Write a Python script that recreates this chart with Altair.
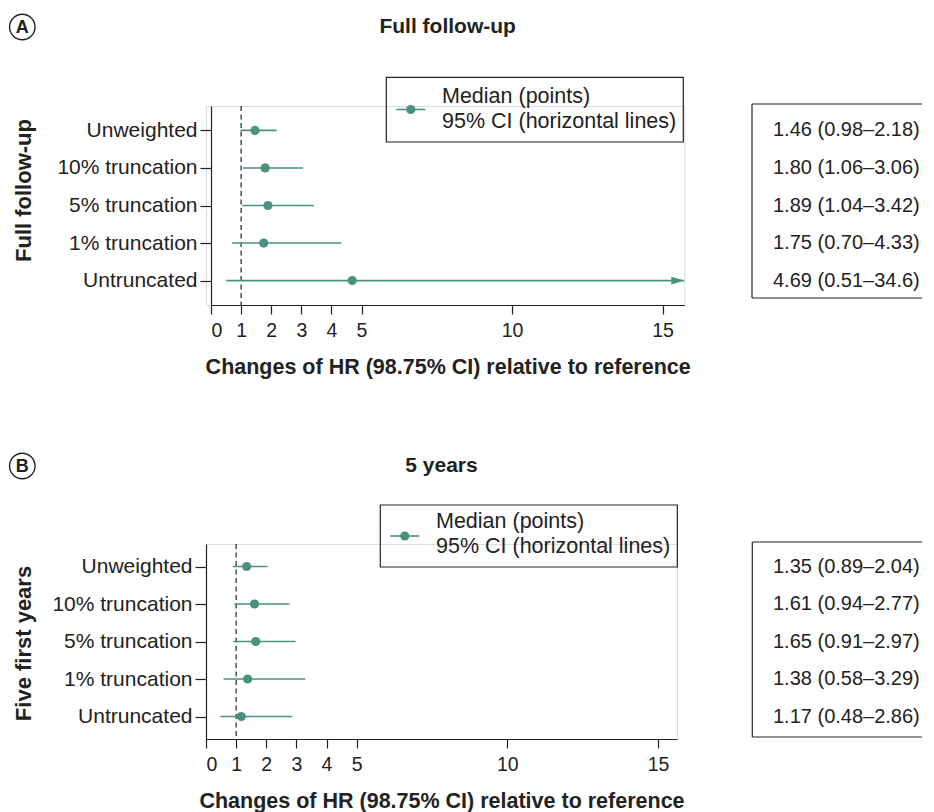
import altair as alt
import pandas as pd

# ---------------- data ----------------
categories = ["Unweighted", "10% truncation", "5% truncation", "1% truncation", "Untruncated"]

a_median = [1.46, 1.80, 1.89, 1.75, 4.69]
a_lower = [0.98, 1.06, 1.04, 0.70, 0.51]
a_upper = [2.18, 3.06, 3.42, 4.33, 34.6]

b_median = [1.35, 1.61, 1.65, 1.38, 1.17]
b_lower = [0.89, 0.94, 0.91, 0.58, 0.48]
b_upper = [2.04, 2.77, 2.97, 3.29, 2.86]

x_ticks = [0, 1, 2, 3, 4, 5, 10, 15]
reference_value = [1]
legend_lines = ["Median (points)", "95% CI (horizontal lines)"]
x_title = "Changes of HR (98.75% CI) relative to reference"

FONT = "Liberation Sans, Arial, Helvetica, sans-serif"
TEAL = "#4a927f"
INK = "#222222"
ARROW = "M-1,-0.6L1,0L-1,0.6Z"


def fmt(v):
    return f"{v:.1f}" if v >= 10 else f"{v:.2f}"


def panel(letter, title, ytitle, median, lower, upper, xmax, x0, pw, height, ypad, L):
    """x0: left inset of the plot inside its group, pw: plot width."""
    df = pd.DataFrame({
        "category": categories,
        "median": median,
        "lower": lower,
        "upper": upper,
    })
    df["upper_clip"] = [min(u, xmax) for u in upper]
    df["clipped"] = [u > xmax for u in upper]
    df["label"] = [f"{fmt(m)} ({fmt(l)}\u2013{fmt(u)})" for m, l, u in zip(median, lower, upper)]

    xscale = alt.Scale(domain=[0, xmax], nice=False, zero=False, range=[x0, x0 + pw])
    xaxis = alt.Axis(values=x_ticks, title=x_title, grid=False, labelFontSize=19.5,
                     labelColor=INK, tickSize=9, labelPadding=7, tickColor=INK,
                     domainColor=INK, domainWidth=1.2, tickWidth=1.2,
                     titleFontSize=21.5, titleFontWeight="bold", titleColor=INK,
                     titleX=x0 + pw / 2, titleY=62, titleBaseline="middle",
                     titleAlign="center", labelFont=FONT, titleFont=FONT)
    yscale = alt.Scale(type="point", domain=categories, padding=ypad)
    yaxis = alt.Axis(title=ytitle, grid=False, labelFontSize=21, labelColor=INK,
                     tickSize=11, labelPadding=3, tickColor=INK, domainColor=INK,
                     domainWidth=1.2, tickWidth=1.2, titleFontSize=22,
                     titleFontWeight="bold", titleColor=INK, titleAngle=270,
                     titleAlign="center", titleBaseline="middle", offset=-x0,
                     titleX=L["ytx"], titleY=L["yty"], labelFont=FONT, titleFont=FONT)

    def X(field):
        return alt.X(field, type="quantitative", scale=xscale, axis=xaxis)

    Y = alt.Y("category:N", scale=yscale, axis=yaxis, sort=categories)

    base = alt.Chart(df)
    refdf = pd.DataFrame({"ref": reference_value})
    one = pd.DataFrame({"k": [0]})

    ref_rule = alt.Chart(refdf).mark_rule(color=INK, strokeWidth=1.2, strokeDash=[5, 3.5]).encode(
        x=X("ref"))
    ci = base.mark_rule(color=TEAL, strokeWidth=1.6).encode(x=X("lower"), x2="upper_clip", y=Y)
    arrow = base.transform_filter("datum.clipped").mark_point(
        shape=ARROW, filled=True, color=TEAL, size=169, opacity=1, xOffset=-6.5).encode(
        x=X("upper_clip"), y=Y)
    pts = base.mark_point(shape="circle", filled=True, color=TEAL, size=85, opacity=1).encode(
        x=X("median"), y=Y)
    vals = base.mark_text(align="left", baseline="middle", fontSize=20, font=FONT, color=INK).encode(
        x=alt.value(L["vx"]), y=Y, text="label:N")

    # boxed value table (open on the right, as cropped in the figure)
    bx = alt.Chart(one)
    box_top = bx.mark_rule(color=INK, strokeWidth=1.2).encode(
        x=alt.value(L["bl"]), x2=alt.value(L["br"]), y=alt.value(L["bt"]))
    box_bot = bx.mark_rule(color=INK, strokeWidth=1.2).encode(
        x=alt.value(L["bl"]), x2=alt.value(L["br"]), y=alt.value(L["bb"]))
    box_left = bx.mark_rule(color=INK, strokeWidth=1.2).encode(
        x=alt.value(L["bl"]), y=alt.value(L["bt"]), y2=alt.value(L["bb"]))

    # legend
    leg_box = bx.mark_rect(fillOpacity=0, stroke=INK, strokeWidth=1.2).encode(
        x=alt.value(L["lx1"]), x2=alt.value(L["lx2"]), y=alt.value(L["ly1"]), y2=alt.value(L["ly2"]))
    leg_line = bx.mark_rule(color=TEAL, strokeWidth=1.6).encode(
        x=alt.value(L["lx1"] + 10), x2=alt.value(L["lx1"] + 39), y=alt.value(L["lyc"]))
    leg_pt = bx.mark_point(shape="circle", filled=True, color=TEAL, size=85, opacity=1).encode(
        x=alt.value(L["lx1"] + 24.5), y=alt.value(L["lyc"]))
    leg_txt = bx.mark_text(align="left", baseline="middle", fontSize=21.5, lineHeight=24.5,
                           font=FONT, color=INK).encode(
        x=alt.value(L["lx1"] + 55.7), y=alt.value(L["lt"]), text=alt.value(legend_lines))

    # panel heading + circled letter
    head = bx.mark_text(align="center", baseline="middle", fontSize=21, fontWeight="bold",
                        font=FONT, color=INK).encode(
        x=alt.value(x0 + pw / 2), y=alt.value(L["hy"]), text=alt.value(title))
    circ = bx.mark_point(shape="circle", filled=False, color=INK, strokeWidth=1.4, size=650,
                         opacity=1).encode(x=alt.value(L["cx"]), y=alt.value(L["hy"]))
    circ_t = bx.mark_text(align="center", baseline="middle", fontSize=18, fontWeight="bold",
                          font=FONT, color=INK).encode(
        x=alt.value(L["cx"]), y=alt.value(L["hy"] + 1), text=alt.value(letter))

    return alt.layer(ref_rule, ci, arrow, pts, vals, box_top, box_bot, box_left,
                     leg_box, leg_line, leg_pt, leg_txt, head, circ, circ_t).properties(
        width=x0 + pw, height=height)


# positions relative to the shared group origin (panel A's plot sits 5 px further right)
LA = dict(ytx=-188, yty=84, vx=567, bl=546, br=716, bt=-2, bb=192,
          lx1=180.3, lx2=477.3, ly1=-28.7, ly2=36, lyc=3.5, lt=-9, hy=-79, cx=-183.7)
LB = dict(ytx=-183, yty=99, vx=567, bl=546.3, br=716, bt=-2, bb=193,
          lx1=174.3, lx2=471.3, ly1=-39, ly2=23, lyc=-8, lt=-22, hy=-78, cx=-183.7)

pa = panel("A", "Full follow-up", "Full follow-up", a_median, a_lower, a_upper,
           15.72, 5, 473.3, 199, 0.65, LA)
pb = panel("B", "5 years", "Five first years", b_median, b_lower, b_upper,
           15.63, 0, 471, 195, 0.6, LB)

chart = alt.vconcat(pa, pb, spacing=71).properties(
    padding={"left": 6, "top": 10, "right": 0, "bottom": 3}
).configure_view(stroke=None).configure(font=FONT)

chart.save("out.html", embed_options={"renderer": "svg", "actions": False})
